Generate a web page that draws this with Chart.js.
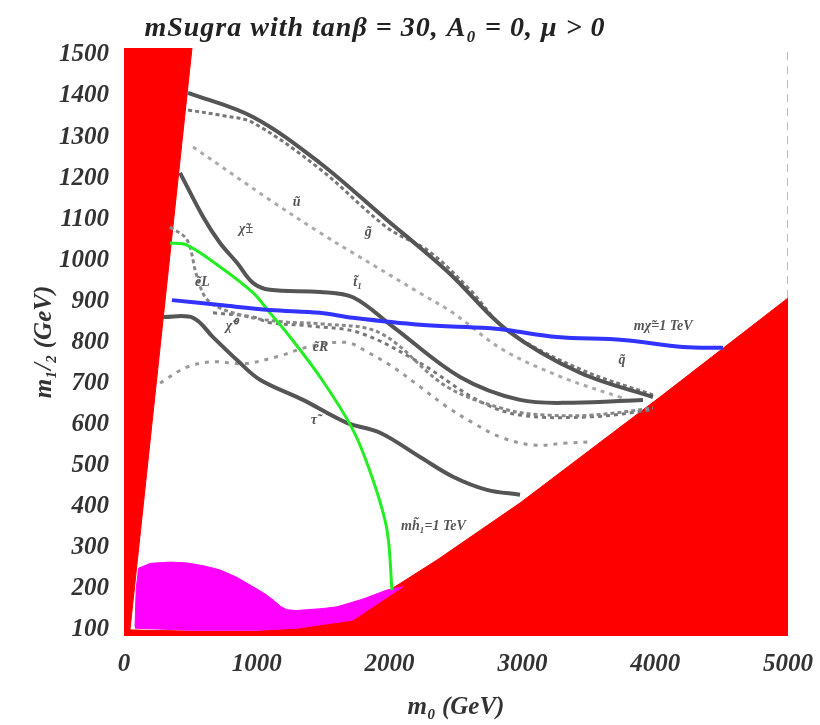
<!DOCTYPE html>
<html>
<head>
<meta charset="utf-8">
<script src="https://cdn.jsdelivr.net/npm/chart.js@4"></script>
<style>
  body { margin: 0; background: #fff; }
</style>
</head>
<body>
<canvas id="msugra-chart" width="820" height="725"></canvas>
<script>
// axis ticks
const xTicks = [0, 1000, 2000, 3000, 4000, 5000];
const yTicks = [100, 200, 300, 400, 500, 600, 700, 800, 900, 1000, 1100, 1200, 1300, 1400, 1500];

// excluded regions, [m0, m1/2]
const redLeft = [[0, 85], [0, 1517], [512, 1517], [45, 100], [40, 85]];
const redRight = [[0, 85], [0, 100], [500, 97], [1000, 97], [1300, 104], [1724, 124], [2026, 202], [2357, 270], [2982, 409], [4036, 667], [5000, 908], [5000, 85]];
const magenta = [[83, 108], [92, 200], [110, 250], [200, 262], [350, 265], [474, 263], [600, 256], [723, 246], [850, 228], [971, 205], [1060, 188], [1122, 173], [1180, 157], [1227, 149], [1300, 147], [1378, 149], [1500, 152], [1604, 156], [1800, 175], [1980, 197], [2100, 205], [1724, 124], [1300, 104], [1000, 99], [500, 99], [83, 104]];

// mass contours
const curveA = [[482, 1408], [971, 1349], [1476, 1237], [1980, 1098], [2250, 1025], [2477, 960], [2884, 830], [3434, 726], [3983, 667]];
const curveA2 = [[482, 1366], [750, 1352], [971, 1335], [1476, 1222], [1980, 1080], [2304, 1020], [2600, 930], [2884, 830], [3434, 735], [3983, 672]];
const curveU = [[520, 1276], [1099, 1147], [1476, 1067], [1724, 1018], [2229, 920], [2477, 872], [2854, 782], [3300, 715], [3750, 665]];
const curveB = [[422, 1213], [595, 1106], [723, 1042], [851, 994], [971, 945], [1099, 928], [1476, 923], [1724, 910], [2026, 838], [2530, 716], [2982, 660], [3381, 653], [3908, 660]];
const curveC = [[346, 1081], [474, 1050], [550, 960], [640, 900], [900, 865], [1200, 850], [1500, 845], [1928, 823], [2432, 692], [2884, 636], [3185, 623], [3532, 623], [3983, 640]];
const curveF = [[670, 872], [971, 862], [1099, 848], [1400, 840], [1777, 823], [2229, 750], [2658, 660], [2982, 623], [3532, 619], [3983, 636]];
const curveD = [[294, 862], [520, 860], [670, 813], [851, 757], [1024, 709], [1348, 660], [1679, 604], [1928, 580], [2229, 521], [2477, 473], [2733, 441], [2982, 429]];
const curveE = [[271, 701], [474, 740], [670, 753], [900, 748], [1150, 765], [1400, 790], [1679, 800], [1830, 777], [2026, 740], [2229, 692], [2432, 643], [2628, 604], [2831, 570], [3080, 550], [3336, 555], [3532, 558]];
const greenCurve = [[346, 1042], [474, 1037], [723, 984], [971, 921], [1099, 872], [1227, 823], [1476, 716], [1724, 587], [1875, 465], [1980, 344], [2018, 197]];
const blueCurve = [[361, 903], [723, 891], [1099, 879], [1476, 872], [1724, 860], [2229, 843], [2733, 835], [2884, 830], [3261, 813], [3758, 806], [4209, 789], [4510, 787]];
const rightEdge = [[5000, 908], [5000, 1517]];

// curve labels [text, m0, m1/2]
const curveLabels = [
  ['ũ', 1300, 1140],
  ['g̃', 1840, 1067],
  ['χ̃±', 920, 1075],
  ['ẽL', 590, 945],
  ['t̃₁', 1760, 945],
  ['χ̃⁰', 810, 838],
  ['ẽR', 1480, 789],
  ['τ̃', 1430, 611],
  ['mχ̃=1 TeV', 4060, 838],
  ['q̃', 3750, 757],
  ['mh̃₁=1 TeV', 2330, 351]
];

const pts = arr => arr.map(p => ({x: p[0], y: p[1]}));

const line = (data, color, width, dash) => ({
  data: pts(data),
  showLine: true,
  borderColor: color,
  borderWidth: width,
  borderDash: dash || [],
  tension: 0.35,
  pointRadius: 0,
  fill: false,
  order: 1
});

const region = (data, color) => ({
  data: pts(data),
  showLine: true,
  borderColor: color,
  backgroundColor: color,
  borderWidth: 1,
  pointRadius: 0,
  fill: 'shape',
  order: 5
});

const tickFont = {family: 'Liberation Serif', size: 25, weight: 'bold', style: 'italic'};
const titleFont = {family: 'Liberation Serif', size: 25, weight: 'bold', style: 'italic'};

const labelPlugin = {
  id: 'labels',
  afterDatasetsDraw(chart) {
    const {ctx, scales} = chart;
    ctx.save();
    ctx.fillStyle = '#555';
    ctx.font = 'italic bold 14px "Liberation Serif"';
    ctx.textAlign = 'center';
    ctx.textBaseline = 'middle';
    curveLabels.forEach(l => {
      ctx.fillText(l[0], scales.x.getPixelForValue(l[1]), scales.y.getPixelForValue(l[2]));
    });
    ctx.restore();
  },
  afterDraw(chart) {
    const ctx = chart.ctx;
    ctx.save();
    ctx.fillStyle = '#222';
    ctx.font = 'italic bold 28px "Liberation Serif"';
    ctx.letterSpacing = '1px';
    ctx.textAlign = 'center';
    ctx.textBaseline = 'middle';
    ctx.fillText('mSugra with tanβ = 30, A₀ = 0, μ > 0', 375, 29);
    ctx.restore();
  }
};

new Chart(document.getElementById('msugra-chart'), {
  type: 'scatter',
  data: {
    datasets: [
      line(blueCurve, '#3333ff', 4),
      line(greenCurve, '#22ee22', 3),
      line(curveA, '#555', 4),
      line(curveA2, '#777', 3, [4, 3]),
      line(curveU, '#aaa', 3, [4, 5]),
      line(curveB, '#555', 4),
      line(curveC, '#888', 3, [4, 3]),
      line(curveF, '#777', 3, [4, 4]),
      line(curveD, '#555', 4),
      line(curveE, '#999', 3, [4, 6]),
      line(rightEdge, '#bbb', 2, [8, 6]),
      region(magenta, '#ff00ff'),
      region(redRight, '#ff0000'),
      region(redLeft, '#ff0000')
    ]
  },
  options: {
    responsive: false,
    animation: false,
    layout: {padding: {top: 48, right: 32, left: 0, bottom: 0}},
    plugins: {
      legend: {display: false},
      tooltip: {enabled: false}
    },
    scales: {
      x: {
        min: 0,
        max: 5000,
        afterBuildTicks: s => { s.ticks = xTicks.map(v => ({value: v})); },
        afterFit: s => { s.height = 89; s.paddingLeft = 0; s.paddingRight = 0; },
        grid: {display: false},
        border: {display: false},
        ticks: {color: '#333', font: tickFont, padding: 6, autoSkip: false, maxRotation: 0, callback: v => String(v)},
        title: {display: true, text: 'm₀ (GeV)', color: '#333', font: titleFont, padding: {top: 4, bottom: 2}}
      },
      y: {
        min: 85,
        max: 1517,
        afterBuildTicks: s => { s.ticks = yTicks.map(v => ({value: v})); },
        afterFit: s => { s.width = 124; s.paddingTop = 0; s.paddingBottom = 0; },
        grid: {display: false},
        border: {display: false},
        ticks: {color: '#333', font: tickFont, padding: 7, autoSkip: false, callback: v => String(v)},
        title: {display: true, text: 'm₁/₂ (GeV)', color: '#333', font: titleFont, padding: {top: 30, bottom: 0}}
      }
    }
  },
  plugins: [labelPlugin]
});
</script>
</body>
</html>
